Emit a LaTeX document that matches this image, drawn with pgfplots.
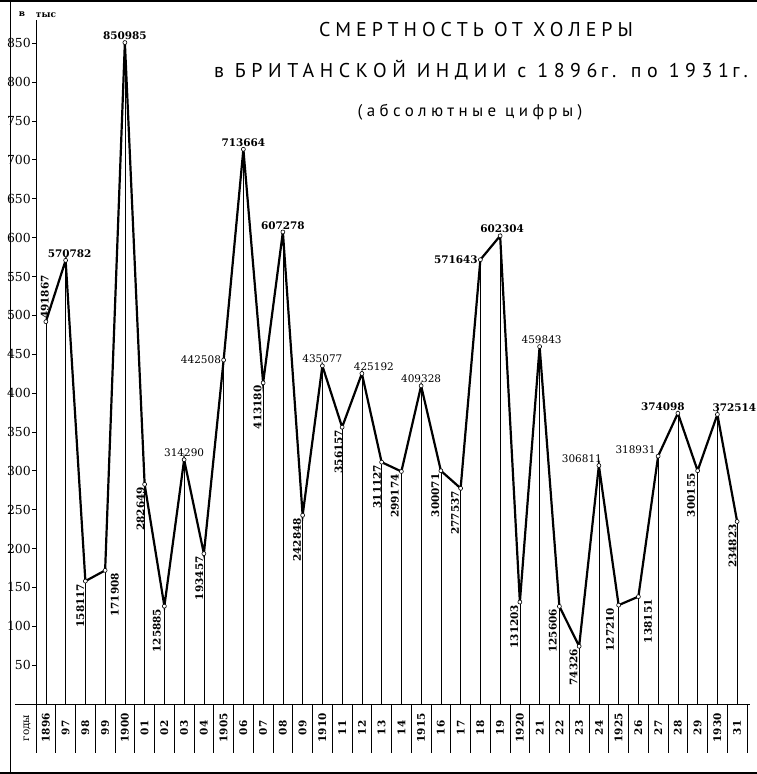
\documentclass[border=0pt]{standalone}
\usepackage{fontspec}
\setmainfont{DejaVu Serif}
\newfontfamily\headfont[LetterSpace=25]{PT Sans}
\newfontfamily\headwidefont[LetterSpace=28]{PT Sans}
\newfontfamily\subfont[LetterSpace=26]{PT Sans}
\usepackage{pgfplots}
\usepackage{pgfplotstable}
\pgfplotsset{compat=1.18}

% Cholera deaths in British India, 1896-1931 (absolute numbers)
% g: label placement group (1 above bold, 2 above, 3 left bold, 4 left,
%    5 below-left upright, 6 below-right upright, 7 above upright)
% dx/dy: label offset in bp
\pgfplotstableread{
year deaths g dx dy
1896 491867 7 -1 2
1897 570782 1 4 2
1898 158117 5 -0.5 -2
1899 171908 6 5 -2
1900 850985 1 0 2
1901 282649 5 0.5 -2
1902 125885 5 -3 -2
1903 314290 2 0 2
1904 193457 5 0 -2
1905 442508 4 -2 0
1906 713664 1 0 2
1907 413180 5 -1 -2
1908 607278 1 0 2
1909 242848 5 -1 -2
1910 435077 2 0 2
1911 356157 5 1 -2
1912 425192 2 12 2
1913 311127 5 0 -2
1914 299174 5 -2 -2
1915 409328 2 0 2
1916 300071 5 -1 -2
1917 277537 5 -1 -2
1918 571643 3 -2 0
1919 602304 1 2 2
1920 131203 5 -1 -2
1921 459843 2 2 2
1922 125606 5 -2 -2
1923 74326 5 -1 -2
1924 306811 2 -17 2
1925 127210 5 -4 -2
1926 138151 6 5 -2
1927 318931 4 -2 6
1928 374098 1 -15 2
1929 300155 5 -2 -2
1930 372514 1 17 2
1931 234823 5 0 -2
}\cholera

\tikzset{
  lblfont/.style={font=\fontsize{10.5}{12}\selectfont},
  lblbold/.style={font=\bfseries\fontsize{10.5}{12}\selectfont},
}
\newcommand\labelplot[2]{%
  \addplot[only marks, mark=none, nodes near coords,
    point meta=explicit symbolic, unbounded coords=discard,
    every node near coord/.append style={inner sep=0.5bp, text=black, #2}]
    table[x expr=\thisrow{year}+\thisrow{dx}/19.75,
          y expr={\thisrow{g}==#1 ? \thisrow{deaths}/1000+\thisrow{dy}/0.7773 : nan},
          meta=deaths]{\cholera};}

\begin{document}
\begin{tikzpicture}[x=1bp,y=1bp]
\useasboundingbox (0,0) rectangle (757,774);
% outer frame
\draw[line width=2.5bp] (0,772.8) -- (757,772.8);
\draw[line width=2.5bp] (0,1.2) -- (757,1.2);
\draw[line width=0.8bp] (10,0) -- (10,774);

\begin{axis}[
  at={(36bp,21bp)}, anchor=south west, scale only axis,
  width=711bp, height=733bp,
  xmin=1895.5, xmax=1931.5, ymin=-63, ymax=880,
  axis y line=left, axis x line=none,
  axis line style={-, line width=0.8bp},
  ytick={50,100,...,850},
  tick align=outside, major tick length=4bp,
  tick style={line width=0.8bp, black},
  /pgf/number format/assume math mode=true,
  yticklabel style={font=\fontsize{12.5}{13}\selectfont, inner sep=1bp},
  clip=false,
]
% year table cells
\pgfplotsinvokeforeach{1895.5,1896.5,...,1931.5}{
  \draw[line width=0.7bp] (axis cs:#1,0) -- (axis cs:#1,-63);
}
% drop lines
\addplot[ycomb, line width=0.7bp, black, no marks]
  table[x=year, y expr=\thisrow{deaths}/1000]{\cholera};
% main curve
\addplot[line width=2.2bp, black, mark=*, mark size=2bp,
  mark options={fill=white, line width=0.6bp}]
  table[x=year, y expr=\thisrow{deaths}/1000]{\cholera};
% value labels
\labelplot{1}{anchor=south, lblbold}
\labelplot{2}{anchor=south, lblfont}
\labelplot{3}{anchor=east, lblbold}
\labelplot{4}{anchor=east, lblfont}
\labelplot{5}{rotate=90, anchor=south east, lblbold}
\labelplot{6}{rotate=90, anchor=north east, lblbold}
\labelplot{7}{rotate=90, anchor=west, lblbold}
\end{axis}

% baseline
\draw[line width=0.9bp] (15,70) -- (750,70);
% year names
\foreach \i/\t in {0/1896,1/97,2/98,3/99,4/1900,5/01,6/02,7/03,8/04,9/1905,
  10/06,11/07,12/08,13/09,14/1910,15/11,16/12,17/13,18/14,19/1915,20/16,
  21/17,22/18,23/19,24/1920,25/21,26/22,27/23,28/24,29/1925,30/26,31/27,
  32/28,33/29,34/1930,35/31}
  \node[rotate=90, font=\bfseries\fontsize{10.5}{11}\selectfont]
    at ({36+19.75*(\i+0.5)},46) {\t};
\node[rotate=90, font=\fontsize{10.5}{11}\selectfont] at (27,46) {годы};
\node[font=\bfseries\fontsize{9}{10}\selectfont] at (22,760) {в};
\node[font=\bfseries\fontsize{9}{10}\selectfont] at (46,759) {тыс};

% title
\node[font=\headfont\fontsize{20}{22}\selectfont] at (476,744) {СМЕРТНОСТЬ ОТ ХОЛЕРЫ};
\node[font=\headwidefont\fontsize{20}{22}\selectfont] at (481,704) {в БРИТАНСКОЙ ИНДИИ с 1896\,г. по 1931\,г.};
\node[font=\subfont\fontsize{17}{18}\selectfont] at (470,662) {(абсолютные цифры)};
\end{tikzpicture}
\end{document}
